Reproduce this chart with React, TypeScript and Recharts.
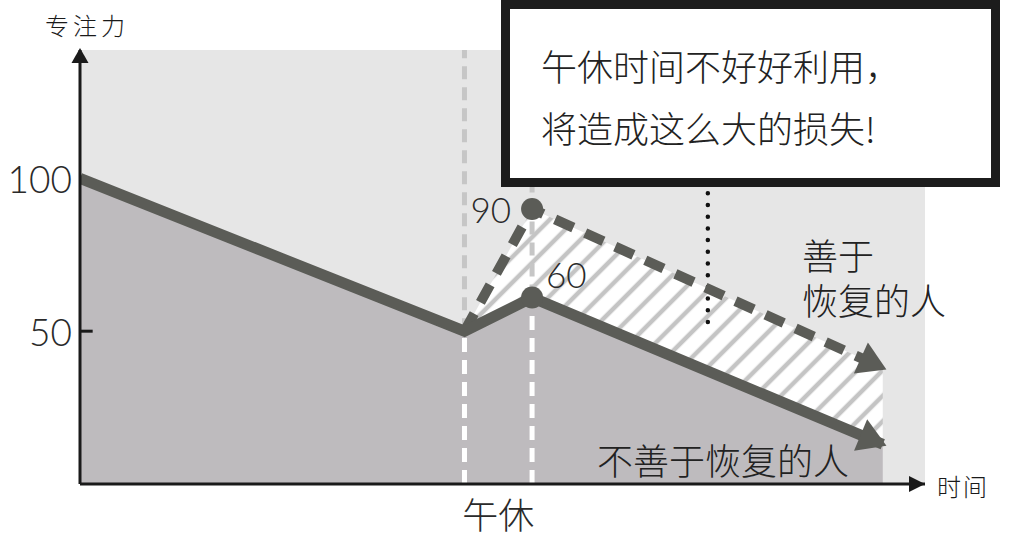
import React from 'react';
import {
  ComposedChart,
  Area,
  Line,
  XAxis,
  YAxis,
  CartesianGrid,
  ReferenceLine,
  ReferenceDot,
} from 'recharts';

// ---- data ----
const times = [0, 45.5, 53.5, 95];
const poorRecovery = [100, 50, 61, 13];
const goodRecovery: (number | null)[] = [null, 50, 90, 38];
const yTicks = [50, 100];
const xTicks = [49.5];
const xTickLabels = ['午休'];
const peakIndex = 2;
const peakLabels = { good: '90', poor: '60' };
const lunchStart = 45.5;
const lunchEnd = 53.5;
const pointer = { x: 74.3, y1: 53, y2: 95.5 };
const xDomain = [0, 100];
const yDomain = [0, 142];

const data = times.map((t, i) => ({
  t,
  poor: poorRecovery[i],
  good: goodRecovery[i],
  hatch: goodRecovery[i] == null ? null : [poorRecovery[i], goodRecovery[i] as number],
}));

const LINE = '#5b5c57';
const CJK = "'Noto Sans CJK SC', sans-serif";
const NUM = "Lato, 'Open Sans', sans-serif";

const PeakDot = (props: any) => {
  const { cx, cy, index } = props;
  if (index !== peakIndex) return <g key={`d-${index}`} />;
  return <circle key={`d-${index}`} cx={cx} cy={cy} r={11} fill={LINE} />;
};

const makeLabel = (text: string, dx: number, dy: number, anchor: string) => (props: any) => {
  const { x, y, index } = props;
  if (index !== peakIndex) return <g key={`l-${index}`} />;
  return (
    <text
      key={`l-${index}`}
      x={x + dx}
      y={y + dy}
      textAnchor={anchor}
      dominantBaseline="central"
      fontSize={35}
      fontFamily={NUM}
      fontWeight={300}
      fill="#2a2a2a"
    >
      {text}
    </text>
  );
};

const YTick = (props: any) => {
  const { x, y, payload } = props;
  return (
    <text x={x} y={y} textAnchor="end" dominantBaseline="central" fontSize={37} fontFamily={NUM} fontWeight={300} fill="#2a2a2a">
      {payload.value}
    </text>
  );
};

const XTick = (props: any) => {
  const { x, y, payload, index } = props;
  const i = xTicks.indexOf(payload.value);
  return (
    <text key={index} x={x} y={y + 21} textAnchor="middle" dominantBaseline="central" fontSize={36} fontFamily={CJK} fontWeight={300} fill="#2a2a2a">
      {xTickLabels[i >= 0 ? i : 0]}
    </text>
  );
};

const UpArrow = (props: any) => {
  const { cx, cy } = props;
  return <path d={`M${cx},${cy - 2} L${cx - 8.5},${cy + 13} L${cx + 8.5},${cy + 13} Z`} fill="#1a1a1a" />;
};
const RightArrow = (props: any) => {
  const { cx, cy } = props;
  return <path d={`M${cx},${cy} L${cx - 16},${cy - 8} L${cx - 16},${cy + 8} Z`} fill="#1a1a1a" />;
};

export default function App() {
  return (
    <div style={{ position: 'absolute', left: 0, top: 0, width: 1036, height: 542, background: '#fff' }}>
      <svg width={0} height={0} style={{ position: 'absolute' }}>
        <defs>
          <marker id="arrowHead" markerUnits="userSpaceOnUse" markerWidth={40} markerHeight={40} refX={26} refY={17} orient="auto">
            <path d="M2,0 L30,17 L2,34 Z" fill={LINE} />
          </marker>
          <pattern id="hatch" patternUnits="userSpaceOnUse" width={18} height={18} patternTransform="rotate(45)">
            <rect x={0} y={0} width={18} height={18} fill="#ffffff" />
            <line x1={4} y1={0} x2={4} y2={18} stroke="#c4c4c4" strokeWidth={4.5} />
          </pattern>
        </defs>
      </svg>
      <ComposedChart width={1036} height={542} data={data} margin={{ top: 50, right: 111, bottom: 28, left: 0 }}>
        <CartesianGrid horizontal={false} vertical={false} fill="#e6e6e6" stroke="none" />
        <XAxis
          dataKey="t"
          type="number"
          domain={xDomain}
          ticks={xTicks}
          height={30}
          tickLine={false}
          axisLine={{ stroke: '#1a1a1a', strokeWidth: 3 }}
          tick={<XTick />}
          allowDataOverflow
        />
        <YAxis
          type="number"
          domain={yDomain}
          ticks={yTicks}
          width={80}
          tickLine={false}
          tickSize={6}
          tickMargin={2}
          axisLine={{ stroke: '#1a1a1a', strokeWidth: 3 }}
          tick={<YTick />}
          allowDataOverflow
        />
        <Area dataKey="poor" stroke="none" fill="#bebbbe" fillOpacity={1} isAnimationActive={false} dot={false} activeDot={false} />
        <Area dataKey="hatch" stroke="none" fill="url(#hatch)" fillOpacity={1} isAnimationActive={false} dot={false} activeDot={false} />
        <ReferenceLine segment={[{ x: lunchStart, y: 0 }, { x: lunchStart, y: poorRecovery[1] }]} stroke="#ffffff" strokeWidth={5} strokeDasharray="14 8" />
        <ReferenceLine segment={[{ x: lunchStart, y: poorRecovery[1] }, { x: lunchStart, y: yDomain[1] }]} stroke="#c6c6c6" strokeWidth={5} strokeDasharray="13 8" />
        <ReferenceLine segment={[{ x: lunchEnd, y: 0 }, { x: lunchEnd, y: poorRecovery[2] }]} stroke="#ffffff" strokeWidth={5} strokeDasharray="14 8" />
        <ReferenceLine segment={[{ x: lunchEnd, y: poorRecovery[2] }, { x: lunchEnd, y: yDomain[1] }]} stroke="#c6c6c6" strokeWidth={5} strokeDasharray="13 8" />
        <ReferenceLine
          segment={[{ x: pointer.x, y: pointer.y1 }, { x: pointer.x, y: pointer.y2 }]}
          stroke="#111"
          strokeWidth={4.5}
          strokeDasharray="0 11.7"
          strokeLinecap="round"
        />
        <ReferenceLine segment={[{ x: 0, y: 50 }, { x: 1.5, y: 50 }]} stroke="#1a1a1a" strokeWidth={3} />
        <Line
          dataKey="good"
          stroke={LINE}
          strokeWidth={10}
          strokeDasharray="20 13"
          markerEnd="url(#arrowHead)"
          dot={<PeakDot />}
          activeDot={false}
          label={makeLabel(peakLabels.good, -21, 0, 'end')}
          isAnimationActive={false}
          connectNulls={false}
        />
        <Line
          dataKey="poor"
          stroke={LINE}
          strokeWidth={11}
          markerEnd="url(#arrowHead)"
          dot={<PeakDot />}
          activeDot={false}
          label={makeLabel(peakLabels.poor, 14, -24, 'start')}
          isAnimationActive={false}
        />
        <ReferenceDot x={xDomain[0]} y={yDomain[1]} r={0} shape={<UpArrow />} ifOverflow="visible" />
        <ReferenceDot x={xDomain[1]} y={yDomain[0]} r={0} shape={<RightArrow />} ifOverflow="visible" />
      </ComposedChart>

      {/* axis titles */}
      <div style={{ position: 'absolute', left: 45, top: 11, fontSize: 24, lineHeight: '28px', letterSpacing: 4, fontFamily: CJK, fontWeight: 300, color: '#1a1a1a', whiteSpace: 'nowrap' }}>专注力</div>
      <div style={{ position: 'absolute', left: 937, top: 472, fontSize: 24, lineHeight: '28px', letterSpacing: 2, fontFamily: CJK, fontWeight: 300, color: '#1a1a1a', whiteSpace: 'nowrap' }}>时间</div>

      {/* callout */}
      <div
        style={{
          position: 'absolute',
          left: 501,
          top: 0,
          width: 499,
          height: 187,
          boxSizing: 'border-box',
          border: '9px solid #1c1c1c',
          background: '#fff',
          padding: '25px 0 0 31px',
          fontFamily: CJK,
          fontWeight: 300,
          fontSize: 36,
          lineHeight: '62px',
          color: '#222',
          whiteSpace: 'nowrap',
        }}
      >
        <div>午休时间不好好利用，</div>
        <div>将造成这么大的损失!</div>
      </div>

      {/* series labels */}
      <div style={{ position: 'absolute', left: 802, top: 232, fontFamily: CJK, fontWeight: 300, fontSize: 36, lineHeight: '45px', color: '#222', whiteSpace: 'nowrap' }}>
        <div>善于</div>
        <div>恢复的人</div>
      </div>
      <div style={{ position: 'absolute', left: 597, top: 437, fontFamily: CJK, fontWeight: 300, fontSize: 36, lineHeight: '45px', color: '#222', whiteSpace: 'nowrap' }}>
        不善于恢复的人
      </div>
    </div>
  );
}
